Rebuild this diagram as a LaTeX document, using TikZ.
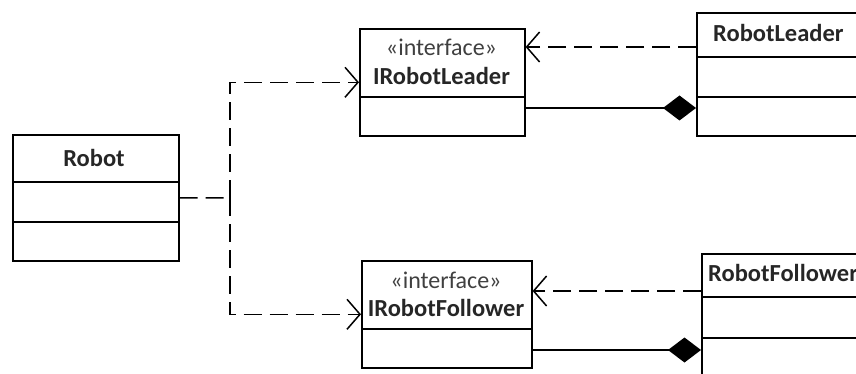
\documentclass[tikz,border=0pt]{standalone}
\usepackage{fontspec}
\setmainfont{Carlito}
\usetikzlibrary{arrows.meta}
\begin{document}
\begin{tikzpicture}[x=1pt,y=-1pt,
  umlbox/.style={draw=black, line width=1.6pt, anchor=north west, inner sep=0pt},
  clsname/.style={font=\fontsize{24.5}{26}\selectfont\bfseries, text=black!85, inner sep=0pt},
  stereo/.style={font=\fontsize{24}{26}\selectfont, text=black!75, inner sep=0pt},
  dep/.style={line width=1.5pt, dash pattern=on 18pt off 8pt, -{Straight Barb[length=13pt,width=30pt,line width=1.5pt]}},
  depnoarr/.style={line width=1.5pt, dash pattern=on 18pt off 8pt},
  comp/.style={line width=1.6pt, -{Diamond[length=33pt,width=25pt,fill=black]}}
]
\useasboundingbox (0,0) rectangle (856,374);
\clip (0,0) rectangle (856,374);
% Robot
\node[umlbox, minimum width=166pt, minimum height=126pt] (robot) at (12,134) {};
\draw[line width=1.6pt] (12,182) -- (178,182) (12,222) -- (178,222);
\node[clsname] (robotname) at (94,158) {Robot};
% IRobotLeader
\node[umlbox, minimum width=165pt, minimum height=107pt] (ileader) at (359,28) {};
\draw[line width=1.6pt] (359,97) -- (524,97);
\node[stereo] (ilst) at (441.5,47) {«interface»};
\node[clsname] (ilname) at (441.5,76) {IRobotLeader};
% IRobotFollower
\node[umlbox, minimum width=170pt, minimum height=107pt] (ifollower) at (361,260) {};
\draw[line width=1.6pt] (361,329) -- (531,329);
\node[stereo] (ifst) at (446,280) {«interface»};
\node[clsname] (ifname) at (446,308) {IRobotFollower};
% RobotLeader
\node[umlbox, minimum width=200pt, minimum height=123pt] (rleader) at (696,12) {};
\draw[line width=1.6pt] (696,57) -- (900,57) (696,97) -- (900,97);
\node[clsname, anchor=west] (rlname) at (713,33) {RobotLeader};
% RobotFollower
\node[umlbox, minimum width=200pt, minimum height=160pt] (rfollower) at (701,253) {};
\draw[line width=1.6pt] (701,297) -- (905,297) (701,338) -- (905,338);
\node[clsname, anchor=west] (rfname) at (708,273) {RobotFollower};
% connectors from Robot
\coordinate (j) at (230,198);
\draw[depnoarr] (robot.east) -- (j);
\draw[dep] (j) |- (ileader.west);
\draw[dep] (j) |- (ifollower.west);
% dependencies
\coordinate (rl1) at (696,47);
\draw[dep] (rl1) -- (rl1 -| ileader.east);
\coordinate (rf1) at (701,291);
\draw[dep] (rf1) -- (rf1 -| ifollower.east);
% compositions
\coordinate (il2) at (524,108);
\draw[comp] (il2) -- (il2 -| rleader.west);
\coordinate (if2) at (531,350);
\draw[comp] (if2) -- (if2 -| rfollower.west);
\end{tikzpicture}
\end{document}
